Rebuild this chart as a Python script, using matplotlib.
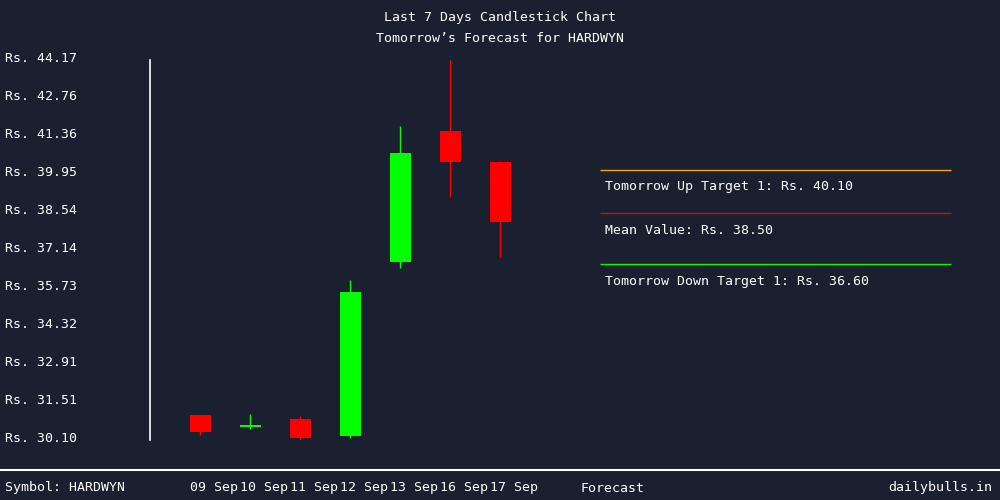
import numpy as np
import matplotlib
matplotlib.use("Agg")
import matplotlib.pyplot as plt
import matplotlib.transforms as mtransforms

# Data
dates = ['09 Sep', '10 Sep', '11 Sep', '12 Sep', '13 Sep', '16 Sep', '17 Sep']
opens = [31.03, 30.59, 30.88, 30.26, 36.70, 41.54, 40.39]
highs = [31.03, 31.06, 30.99, 36.02, 41.73, 44.17, 40.42]
lows = [30.29, 30.50, 30.10, 30.19, 36.48, 39.11, 36.89]
closes = [30.41, 30.66, 30.19, 35.58, 40.73, 40.40, 38.18]

targets = [40.10, 38.50, 36.60]
target_labels = ['Tomorrow Up Target 1: Rs. 40.10',
                 'Mean Value: Rs. 38.50',
                 'Tomorrow Down Target 1: Rs. 36.60']
target_colors = ['#ffa500', '#e60000', '#00ff00']

symbol = 'HARDWYN'
bg = '#1b2030'
fg = 'white'
FONT = 'DejaVu Sans Mono'
FS = 9.5

plt.rcParams['font.family'] = FONT

fig = plt.figure(figsize=(10, 5), dpi=100, facecolor=bg)
# axes spans pixel x 150..1000, y 60..440
ax = fig.add_axes([0.15, 0.12, 0.85, 0.76], facecolor=bg)
ax.set_xlim(-1, 16)
ymin, ymax = min(lows), max(highs)
ax.set_ylim(ymin, ymax)

x = np.arange(len(dates))
for i in x:
    up = closes[i] >= opens[i]
    c = '#00ff00' if up else '#ff0000'
    ax.vlines(i, lows[i], highs[i], color=c, lw=1.0, zorder=2)
    h = closes[i] - opens[i]
    if abs(h) < 0.06:
        h = 0.06 if up else -0.06
    ax.bar(i, h, bottom=opens[i], width=0.42, color=c, zorder=3)

# forecast lines + labels
ax.hlines(targets, 8, 15.02, colors=target_colors, lw=1.0)
below = mtransforms.offset_copy(ax.transData, fig=fig, x=0, y=-17, units='dots')
for t, lab in zip(targets, target_labels):
    ax.text(8.1, t, lab, transform=below, color=fg, fontsize=FS,
            va='center', ha='left')

# price labels on the far left (slightly above their level, like the original)
yt = np.linspace(ymin, ymax, 11)
ylab_tr = mtransforms.offset_copy(
    mtransforms.blended_transform_factory(fig.transFigure, ax.transData),
    fig=fig, x=0, y=2, units='dots')
for v in yt:
    ax.text(5 / 1000, v, f'Rs. {v:.2f}', transform=ylab_tr, color=fg,
            fontsize=FS, ha='left', va='center', clip_on=False)
ax.set_yticks([])
ax.set_xticks([])

for s in ['top', 'right', 'bottom']:
    ax.spines[s].set_visible(False)
ax.spines['left'].set_color(fg)
ax.spines['left'].set_linewidth(1.2)

# titles
fig.text(0.5, 1 - 18 / 500, 'Last 7 Days Candlestick Chart', color=fg,
         fontsize=FS, ha='center', va='center')
fig.text(0.5, 1 - 38 / 500, f'Tomorrow\u2019s Forecast for {symbol}', color=fg,
         fontsize=FS, ha='center', va='center')

# footer
fig.add_artist(plt.Line2D([0, 1], [1 - 470 / 500] * 2, color=fg, lw=1.5,
                          transform=fig.transFigure))
foot_y = 1 - 488 / 500
fig.text(5 / 1000, foot_y, f'Symbol: {symbol}', color=fg, fontsize=FS,
         ha='left', va='center')
bt = mtransforms.blended_transform_factory(ax.transData, fig.transFigure)
for i, d in zip(x, dates):
    ax.text(i - 0.2, foot_y, d, transform=bt, color=fg, fontsize=FS,
            ha='left', va='center', clip_on=False)
ax.text(7.6, foot_y, 'Forecast', transform=bt, color=fg, fontsize=FS,
        ha='left', va='center', clip_on=False)
fig.text(992 / 1000, foot_y, 'dailybulls.in', color=fg, fontsize=FS,
         ha='right', va='center')

fig.savefig('out.png', dpi=100, facecolor=bg)
